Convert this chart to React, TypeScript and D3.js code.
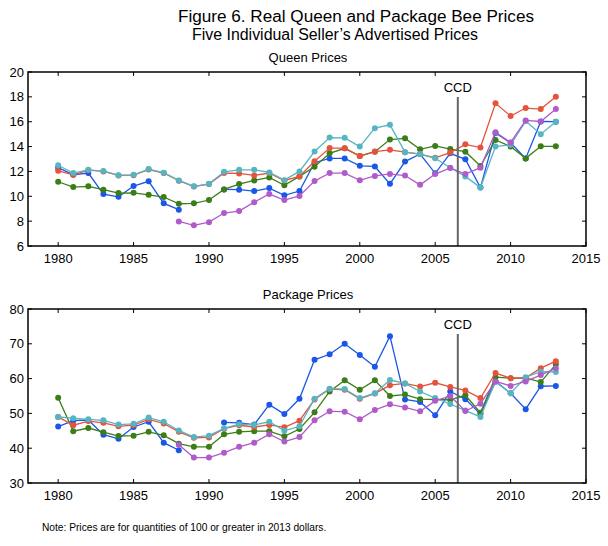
import { scaleLinear, line } from 'd3'

const years = [
  1980, 1981, 1982, 1983, 1984, 1985, 1986, 1987, 1988, 1989, 1990, 1991, 1992, 1993, 1994, 1995, 1996,
  1997, 1998, 1999, 2000, 2001, 2002, 2003, 2004, 2005, 2006, 2007, 2008, 2009, 2010, 2011, 2012, 2013,
]
const yearTicks = [1980, 1985, 1990, 1995, 2000, 2005, 2010, 2015]
const queenTicks = [6, 8, 10, 12, 14, 16, 18, 20]
const packageTicks = [30, 40, 50, 60, 70, 80]
const ccdYear = 2006.5

type V = number | null
const n = null

// queen prices, one array per seller
const queenBlue: V[] = [12.3, 11.73, 11.87, 10.18, 9.96, 10.82, 11.2, 9.43, 8.92, n, n, 10.55, 10.53, 10.42, 10.66, 10.08, 10.42, 12.7, 13.05, 13.05, 12.45, 12.4, 11.0, 12.79, 13.4, 11.85, 13.46, 12.97, 10.7, 15.1, 14.3, 13.05, 16.02, 16.0]
const queenGreen: V[] = [11.17, 10.74, 10.8, 10.53, 10.26, 10.28, 10.12, 9.94, 9.4, 9.43, 9.7, 10.55, 10.98, 11.28, 11.52, 10.88, 11.6, 12.38, 13.46, 13.86, 13.24, 13.59, 14.56, 14.66, 13.78, 14.05, 13.8, 13.59, 12.44, 14.53, 14.0, 13.05, 14.02, 14.02]
const queenRed: V[] = [12.05, 11.73, 12.1, 12.0, 11.68, 11.7, 12.15, 11.87, 11.26, 10.78, 10.98, 11.87, 11.84, 11.68, 11.87, 11.27, 11.6, 12.82, 13.88, 13.87, 13.24, 13.6, 13.74, 13.55, 13.4, 13.1, 13.52, 14.18, 13.92, 17.48, 16.46, 17.1, 17.02, 18.0]
const queenCyan: V[] = [12.5, 11.87, 12.13, 12.03, 11.7, 11.73, 12.19, 11.9, 11.28, 10.8, 11.0, 11.97, 12.13, 12.13, 11.92, 11.3, 12.0, 13.6, 14.72, 14.7, 14.0, 15.48, 15.75, 13.55, 13.4, 13.06, 12.3, 11.6, 10.7, 14.0, 14.14, 16.05, 15.0, 16.0]
const queenPurple: V[] = [n, n, n, n, n, n, n, n, 7.98, 7.66, 7.92, 8.65, 8.81, 9.53, 10.18, 9.7, 10.03, 11.22, 11.87, 11.87, 11.29, 11.64, 11.8, 11.67, 10.92, 11.79, 12.28, 11.79, 12.3, 15.16, 14.33, 16.1, 16.02, 17.03]

// package prices
const packBlue: V[] = [46.2, 47.9, 48.1, 43.9, 42.7, 46.1, 47.6, 41.6, 39.4, n, n, 47.4, 47.3, 46.8, 52.5, 49.8, 54.2, 65.4, 67.0, 70.0, 66.8, 63.4, 72.2, 54.0, 53.3, 49.5, 56.3, 54.1, 49.8, 59.2, 55.8, 51.2, 57.8, 57.9]
const packGreen: V[] = [54.5, 44.9, 45.8, 44.6, 43.5, 43.6, 44.7, 43.7, 41.3, 40.4, 40.4, 44.0, 44.7, 44.9, 44.9, 43.4, 45.5, 50.3, 56.3, 59.5, 56.8, 59.5, 55.0, 55.4, 54.1, 54.0, 53.9, 55.2, 50.2, 60.4, 60.1, 60.2, 59.0, 64.1]
const packRed: V[] = [49.0, 46.6, 47.8, 47.3, 46.3, 46.6, 48.3, 47.1, 44.7, 43.0, 43.1, 45.6, 46.6, 46.1, 46.7, 46.0, 47.9, 54.0, 57.0, 56.8, 54.2, 55.7, 58.1, 58.6, 57.7, 58.8, 57.6, 56.6, 54.4, 61.6, 60.1, 60.2, 63.0, 65.0]
const packCyan: V[] = [49.0, 48.6, 48.3, 48.0, 46.8, 47.0, 48.8, 47.6, 45.1, 43.2, 43.6, 45.7, 46.9, 46.7, 47.6, 45.0, 46.3, 54.2, 57.1, 57.0, 54.4, 55.8, 59.6, 58.6, 56.3, 54.4, 52.7, 50.8, 49.0, 59.1, 55.8, 60.4, 62.0, 61.9]
const packPurple: V[] = [n, n, n, n, n, n, n, n, 41.0, 37.3, 37.3, 38.7, 40.4, 41.6, 44.0, 41.9, 43.2, 48.0, 50.6, 50.5, 48.3, 51.0, 52.6, 51.7, 50.6, 53.6, 55.0, 50.7, 52.8, 59.2, 57.9, 59.2, 61.0, 63.0]

const colors = ['#1a56e8', '#3b7d17', '#e5533c', '#55b6c2', '#b05bc9']
const font = '"Liberation Sans", Arial, sans-serif'

const x = scaleLinear().domain([1978, 2015]).range([28, 586])

function Panel({ top, bottom, domain, ticks, series, title }: {
  top: number; bottom: number; domain: [number, number]; ticks: number[]; series: V[][]; title: string
}) {
  const y = scaleLinear().domain(domain).range([bottom, top])
  const path = line<V>()
    .defined((d) => d != null)
    .x((_, i) => x(years[i]))
    .y((d) => y(d as number))
  const left = x.range()[0]
  const right = x.range()[1]
  const tl = 4
  return (
    <g>
      <text x={308} y={top - 10} textAnchor="middle" fontSize={13}>{title}</text>
      {series.map((s, k) => (
        <g key={k}>
          <path d={path(s) || ''} fill="none" stroke={colors[k]} strokeWidth={1.3} />
          {s.map((d, i) => d == null ? null : (
            <circle key={i} cx={x(years[i])} cy={y(d)} r={3} fill={colors[k]} />
          ))}
        </g>
      ))}
      <line x1={x(ccdYear)} x2={x(ccdYear)} y1={top + 25} y2={bottom} stroke="#666" strokeWidth={2} />
      <text x={x(ccdYear)} y={top + 20} textAnchor="middle" fontSize={13}>CCD</text>
      <rect x={left} y={top} width={right - left} height={bottom - top} fill="none" stroke="#000" strokeWidth={1.5} />
      {ticks.map((t) => (
        <g key={t}>
          <line x1={left} x2={left + tl} y1={y(t)} y2={y(t)} stroke="#000" />
          <line x1={right} x2={right - tl} y1={y(t)} y2={y(t)} stroke="#000" />
          <text x={24} y={y(t) + 4.5} textAnchor="end" fontSize={13}>{t}</text>
        </g>
      ))}
      {yearTicks.map((t) => (
        <g key={t}>
          <line x1={x(t)} x2={x(t)} y1={top} y2={top + tl} stroke="#000" />
          <line x1={x(t)} x2={x(t)} y1={bottom} y2={bottom - tl} stroke="#000" />
          <text x={x(t)} y={bottom + 17} textAnchor="middle" fontSize={13}>{t}</text>
        </g>
      ))}
    </g>
  )
}

export default function App() {
  return (
    <svg width={608} height={546} style={{ position: 'absolute', left: 0, top: 0, background: '#fff', fontFamily: font }}>
      <text x={178} y={22} fontSize={16} textLength={356} lengthAdjust="spacingAndGlyphs">Figure 6. Real Queen and Package Bee Prices</text>
      <text x={192} y={40} fontSize={16} textLength={286} lengthAdjust="spacingAndGlyphs">Five Individual Seller’s Advertised Prices</text>
      <Panel top={72} bottom={246} domain={[6, 20]} ticks={queenTicks} title="Queen Prices"
        series={[queenBlue, queenGreen, queenRed, queenCyan, queenPurple]} />
      <Panel top={309} bottom={483} domain={[30, 80]} ticks={packageTicks} title="Package Prices"
        series={[packBlue, packGreen, packRed, packCyan, packPurple]} />
      <text x={42} y={531} fontSize={10.2}>Note: Prices are for quantities of 100 or greater in 2013 dollars.</text>
    </svg>
  )
}
